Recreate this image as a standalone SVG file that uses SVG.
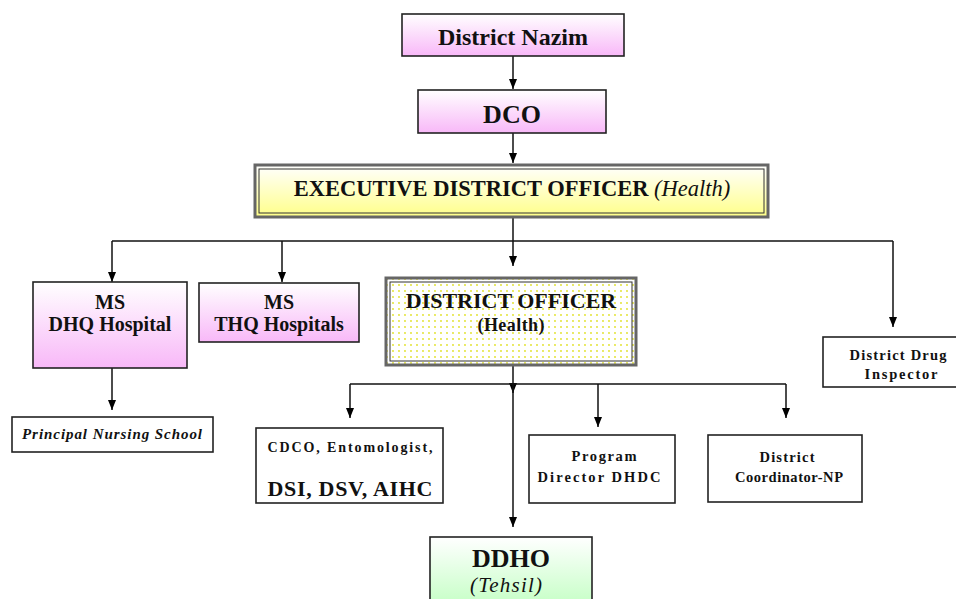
<svg xmlns="http://www.w3.org/2000/svg" width="956" height="599" viewBox="0 0 956 599" font-family="'Liberation Serif', 'DejaVu Serif', serif">
<defs>
<linearGradient id="pink" x1="0" y1="0" x2="0" y2="1"><stop offset="0" stop-color="#ffffff"/><stop offset="1" stop-color="#f8b8f8"/></linearGradient>
<linearGradient id="yellow" x1="0" y1="0" x2="0" y2="1"><stop offset="0" stop-color="#ffffff"/><stop offset="1" stop-color="#ffff88"/></linearGradient>
<linearGradient id="green" x1="0" y1="0" x2="0" y2="1"><stop offset="0" stop-color="#ffffff"/><stop offset="1" stop-color="#c4ffc4"/></linearGradient>
<pattern id="dots" width="6" height="6" patternUnits="userSpaceOnUse"><rect width="6" height="6" fill="#ffffff"/><circle cx="3" cy="3" r="0.9" fill="#e0e020"/></pattern>
<marker id="arr" markerWidth="10" markerHeight="10" refX="10" refY="5" orient="auto" markerUnits="userSpaceOnUse"><path d="M0,1 L10,5 L0,9 Z" fill="#000"/></marker>
</defs>
<style>
.b{stroke:#222;stroke-width:1.6}
.t{font-family:'Liberation Serif','DejaVu Serif',serif;font-weight:bold;fill:#111;text-anchor:middle}
.i{font-style:italic}
.n{font-weight:normal}
.c path{stroke:#111;stroke-width:1.5;fill:none}
</style>
<rect width="956" height="599" fill="#ffffff"/>
<g class="c">
<path d="M513 56 V89" marker-end="url(#arr)"/>
<path d="M513 133 V163" marker-end="url(#arr)"/>
<path d="M513 218 V266" marker-end="url(#arr)"/>
<path d="M112 241 H893"/>
<path d="M112 241 V282" marker-end="url(#arr)"/>
<path d="M282 241 V282" marker-end="url(#arr)"/>
<path d="M893 241 V327" marker-end="url(#arr)"/>
<path d="M112 368 V410" marker-end="url(#arr)"/>
<path d="M513 366 V393" marker-end="url(#arr)"/>
<path d="M513 384 V527" marker-end="url(#arr)"/>
<path d="M350 384 H786"/>
<path d="M350 384 V418" marker-end="url(#arr)"/>
<path d="M598 384 V427" marker-end="url(#arr)"/>
<path d="M786 384 V418" marker-end="url(#arr)"/>
</g>
<g id="nazim">
<rect x="402" y="14" width="222" height="42" fill="url(#pink)" class="b"/>
<text x="513" y="45" class="t" font-size="24">District Nazim</text>
</g>
<g id="dco">
<rect x="418" y="90" width="188" height="43" fill="url(#pink)" class="b"/>
<text x="512" y="123" class="t" font-size="26">DCO</text>
</g>
<g id="edo">
<rect x="255" y="165" width="513" height="52" fill="url(#yellow)" stroke="#666" stroke-width="3"/>
<rect x="259" y="169" width="505" height="44" fill="none" stroke="#333" stroke-width="1"/>
<text x="512" y="196" class="t" font-size="22.5">EXECUTIVE DISTRICT OFFICER <tspan class="i n">(Health)</tspan></text>
</g>
<g id="dhq">
<rect x="33" y="282" width="154" height="86" fill="url(#pink)" class="b"/>
<text x="110" y="309" class="t" font-size="20">MS</text>
<text x="110" y="331" class="t" font-size="20">DHQ Hospital</text>
</g>
<g id="thq">
<rect x="199" y="283" width="160" height="59" fill="url(#pink)" class="b"/>
<text x="279" y="309" class="t" font-size="20">MS</text>
<text x="279" y="331" class="t" font-size="20">THQ Hospitals</text>
</g>
<g id="do">
<rect x="386" y="278" width="250" height="87" fill="url(#dots)" stroke="#666" stroke-width="3"/>
<rect x="390" y="282" width="242" height="79" fill="none" stroke="#333" stroke-width="1"/>
<text x="511" y="308" class="t" font-size="22">DISTRICT OFFICER</text>
<text x="511" y="331" class="t" font-size="18" textLength="67">(Health)</text>
</g>
<g id="ddi">
<rect x="823" y="337" width="134" height="50" fill="#fff" class="b"/>
<text x="898" y="360" class="t" font-size="14.5" textLength="97">District Drug</text>
<text x="901" y="379" class="t" font-size="14.5" textLength="73">Inspector</text>
</g>
<g id="pns">
<rect x="12" y="417" width="201" height="35" fill="#fff" class="b"/>
<text x="112" y="439" class="t i" font-size="15" textLength="180">Principal Nursing School</text>
</g>
<g id="cdco">
<rect x="256" y="428" width="187" height="75" fill="#fff" class="b"/>
<text x="350" y="452" class="t" font-size="14" textLength="165">CDCO,  Entomologist,</text>
<text x="350" y="496" class="t" font-size="22" textLength="165">DSI, DSV, AIHC</text>
</g>
<g id="pd">
<rect x="529" y="435" width="146" height="68" fill="#fff" class="b"/>
<text x="604" y="461" class="t" font-size="14.5" textLength="65">Program</text>
<text x="599" y="482" class="t" font-size="14.5" textLength="123">Director  DHDC</text>
</g>
<g id="dcnp">
<rect x="708" y="435" width="154" height="67" fill="#fff" class="b"/>
<text x="787" y="462" class="t" font-size="14.5" textLength="55">District</text>
<text x="789" y="482" class="t" font-size="14.5" textLength="108">Coordinator-NP</text>
</g>
<g id="ddho">
<rect x="430" y="537" width="162" height="70" fill="url(#green)" class="b"/>
<text x="511" y="567" class="t" font-size="26">DDHO</text>
<text x="506" y="592" class="t i n" font-size="21" textLength="72">(Tehsil)</text>
</g>
</svg>
